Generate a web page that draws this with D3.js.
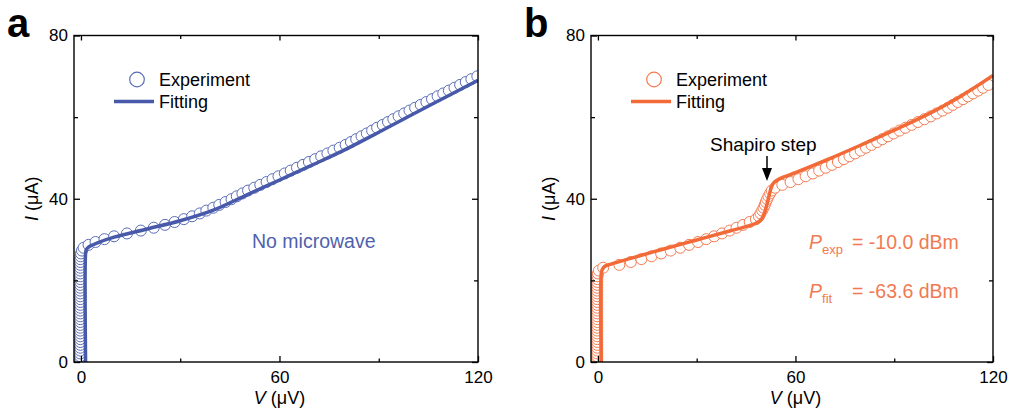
<!DOCTYPE html>
<html>
<head>
<meta charset="utf-8">
<script src="https://cdn.jsdelivr.net/npm/d3@7"></script>
<style>
  body { margin: 0; background: #fff; }
  svg { display: block; }
</style>
</head>
<body>
<svg id="chart" width="1013" height="416"></svg>
<script>
// axis ticks
const xMajor = [0, 60, 120];
const xMinor = [30, 90];
const yMajor = [0, 40, 80];
const yMinor = [20, 60];

// panel a: no microwave, [V (uV), I (uA)]
const aExp = [
  [-0.2,0],[-0.2,0.7],[-0.2,1.4],[-0.2,2.1],[-0.2,2.8],[-0.2,3.5],[-0.2,4.2],[-0.2,4.9],[-0.2,5.6],[-0.2,6.3],
  [-0.2,7.0],[-0.2,7.7],[-0.2,8.4],[-0.2,9.1],[-0.2,9.8],[-0.2,10.5],[-0.2,11.2],[-0.2,11.9],[-0.2,12.6],[-0.2,13.3],
  [-0.2,14.0],[-0.2,14.7],[-0.2,15.4],[-0.2,16.1],[-0.2,16.8],[-0.2,17.5],[-0.2,18.2],[-0.2,18.9],[-0.2,19.6],[-0.2,20.3],
  [-0.2,21.0],[-0.2,21.7],[-0.2,22.4],[-0.2,23.1],[-0.2,23.8],[-0.2,24.5],[-0.2,25.2],[-0.1,25.9],[0.0,26.6],[0.3,27.3],
  [0.8,28.0],[2.3,28.7],[4.4,29.4],[7.1,30.1],[10.0,30.8],[13.9,31.5],[18.1,32.2],[22.0,32.9],[25.4,33.6],[28.3,34.3],
  [31.1,35.0],[33.6,35.7],[35.9,36.4],[37.9,37.1],[40.0,37.8],[41.8,38.5],[43.7,39.2],[45.5,39.9],[47.1,40.6],[48.8,41.3],
  [50.5,42.0],[52.4,42.7],[54.2,43.4],[56.1,44.1],[57.9,44.8],[59.7,45.5],[61.6,46.2],[63.4,46.9],[65.3,47.6],[67.1,48.3],
  [68.9,49.0],[70.8,49.7],[72.6,50.4],[74.5,51.1],[76.3,51.8],[78.2,52.5],[80.0,53.2],[81.6,53.9],[83.2,54.6],[84.8,55.3],
  [86.4,56.0],[88.0,56.7],[89.5,57.4],[91.2,58.1],[92.8,58.8],[94.4,59.5],[96.0,60.2],[97.7,60.9],[99.3,61.6],[101.0,62.3],
  [102.7,63.0],[104.4,63.7],[106.1,64.4],[107.8,65.1],[109.5,65.8],[111.2,66.5],[112.9,67.2],[114.6,67.9],[116.3,68.6],[118.0,69.3],
  [119.8,70.0]
];
const aFit = [
  [1.4,0],[1.4,26.6],[1.6,27.5],[2.2,28.1],[5,29.2],[10,30.6],[20,32.6],[30,34.6],[40,37.2],
  [50,40.9],[60,44.6],[70,48.3],[80,52.1],[90,56.3],[100,60.6],[110,64.8],[120,69.0]
];

// panel b: with microwave
const bExp = [
  [-0.2,0],[-0.2,0.7],[-0.2,1.4],[-0.2,2.1],[-0.2,2.8],[-0.2,3.5],[-0.2,4.2],[-0.2,4.9],[-0.2,5.6],[-0.2,6.3],
  [-0.2,7.0],[-0.2,7.7],[-0.2,8.4],[-0.2,9.1],[-0.2,9.8],[-0.2,10.5],[-0.2,11.2],[-0.2,11.9],[-0.2,12.6],[-0.2,13.3],
  [-0.2,14.0],[-0.2,14.7],[-0.2,15.4],[-0.2,16.1],[-0.2,16.8],[-0.2,17.5],[-0.2,18.2],[-0.2,18.9],[-0.2,19.6],[-0.2,20.3],
  [-0.1,21.0],[0.0,21.7],[0.3,22.4],
  [1.6,23.1],[6.5,23.8],[10.0,24.5],[13.2,25.2],[16.3,25.9],[19.2,26.6],[22.1,27.3],[25.0,28.0],[27.7,28.7],[30.4,29.4],
  [32.9,30.1],[35.3,30.8],[37.7,31.5],[40.0,32.2],[42.1,32.9],[44.1,33.6],[46.1,34.3],[48.0,35.0],[48.9,35.7],[49.4,36.4],
  [49.9,37.1],[50.3,37.8],[50.7,38.5],[51.0,39.2],[51.4,39.9],[51.8,40.6],[52.3,41.3],[52.8,42.0],[53.8,42.7],[56.0,43.4],
  [58.5,44.1],[60.9,44.8],[63.1,45.5],[65.3,46.2],[67.2,46.9],[69.2,47.6],[71.1,48.3],[72.9,49.0],[74.7,49.7],[76.4,50.4],
  [78.1,51.1],[79.8,51.8],[81.4,52.5],[83.1,53.2],[84.8,53.9],[86.4,54.6],[88.1,55.3],[89.8,56.0],[91.6,56.7],[93.4,57.4],
  [95.3,58.1],[97.2,58.8],[99.2,59.5],[101.1,60.2],[102.9,60.9],[104.7,61.6],[106.3,62.3],[107.8,63.0],[109.3,63.7],[110.9,64.4],
  [112.4,65.1],[113.9,65.8],[115.5,66.5],[117.0,67.2],[118.6,67.9]
];
const bFit = [
  [1.0,0],[1.0,21.5],[1.3,22.6],[2,23.4],[4,24.0],[10,25.4],[20,27.7],[30,29.9],[40,32.1],[46,33.4],
  [48,34.0],[49.5,34.8],[50.5,36.3],[51.3,38.5],[52,40.8],[52.6,42.6],[53.3,43.8],[54.5,44.6],[57,45.5],
  [60,46.4],[70,49.7],[80,53.2],[90,56.8],[100,60.6],[110,65.0],[120,70.2]
];

const font = "'Liberation Sans', Arial, sans-serif";
const plotTop = 35.5, plotH = 326.5;

const svg = d3.select("#chart").style("font-family", font);
const defs = svg.append("defs");

function drawPanel(p) {
  const g = svg.append("g").attr("transform", `translate(${p.left},${plotTop})`);
  const x = d3.scaleLinear().domain([-2.1, 120]).range([0, p.width]);
  const y = d3.scaleLinear().domain([0, 80]).range([plotH, 0]);

  defs.append("clipPath").attr("id", "clip-" + p.id)
    .append("rect").attr("width", p.width).attr("height", plotH);

  const plot = g.append("g").attr("clip-path", `url(#clip-${p.id})`);

  plot.selectAll("circle")
    .data(p.exp)
    .join("circle")
    .attr("cx", d => x(d[0]))
    .attr("cy", d => y(d[1]))
    .attr("r", 5.5)
    .attr("fill", "#fff")
    .attr("stroke", p.ptColor)
    .attr("stroke-width", 1);

  const line = d3.line()
    .x(d => x(d[0]))
    .y(d => y(d[1]))
    .curve(d3.curveCatmullRom.alpha(0.5));

  plot.append("path")
    .datum(p.fit)
    .attr("d", line)
    .attr("fill", "none")
    .attr("stroke", p.lineColor)
    .attr("stroke-width", 3.5);

  // axes, ticks pointing inward on all four sides
  const axes = [
    [d3.axisBottom(x).tickValues(xMajor).tickSize(-6).tickPadding(9), `translate(0,${plotH})`],
    [d3.axisBottom(x).tickValues(xMinor).tickSize(-3.5).tickFormat(""), `translate(0,${plotH})`],
    [d3.axisTop(x).tickValues(xMajor).tickSize(-5).tickFormat(""), null],
    [d3.axisTop(x).tickValues(xMinor).tickSize(-3.5).tickFormat(""), null],
    [d3.axisLeft(y).tickValues(yMajor).tickSize(-6).tickPadding(6), null],
    [d3.axisLeft(y).tickValues(yMinor).tickSize(-4).tickFormat(""), null],
    [d3.axisRight(y).tickValues(yMajor).tickSize(-6).tickFormat(""), `translate(${p.width},0)`],
    [d3.axisRight(y).tickValues(yMinor).tickSize(-4).tickFormat(""), `translate(${p.width},0)`]
  ];
  axes.forEach(([ax, tr]) => {
    const a = g.append("g").call(ax)
      .attr("font-family", font)
      .attr("font-size", 17);
    if (tr) a.attr("transform", tr);
    a.select(".domain").remove();
    a.selectAll(".tick line").attr("stroke", "#000").attr("stroke-width", 1.3);
    a.selectAll(".tick text").attr("fill", "#000");
  });

  g.append("rect")
    .attr("width", p.width)
    .attr("height", plotH)
    .attr("fill", "none")
    .attr("stroke", "#000")
    .attr("stroke-width", 1.4);

  // axis titles
  const xt = svg.append("text")
    .attr("x", p.left + x(60))
    .attr("y", 404)
    .attr("text-anchor", "middle")
    .attr("font-size", 18);
  xt.append("tspan").attr("font-style", "italic").text("V");
  xt.append("tspan").text(" (μV)");

  const yt = svg.append("text")
    .attr("transform", `translate(${p.left - 36},${plotTop + y(40)}) rotate(-90)`)
    .attr("text-anchor", "middle")
    .attr("font-size", 18);
  yt.append("tspan").attr("font-style", "italic").text("I");
  yt.append("tspan").text(" (μA)");

  // panel letter
  svg.append("text")
    .attr("x", p.left - 67)
    .attr("y", 36.5)
    .attr("font-size", 40)
    .attr("font-weight", "bold")
    .text(p.id);

  // legend
  svg.append("circle")
    .attr("cx", p.left + 63)
    .attr("cy", 79.5)
    .attr("r", 7.3)
    .attr("fill", "#fff")
    .attr("stroke", p.ptColor)
    .attr("stroke-width", 1.2);
  svg.append("text")
    .attr("x", p.left + 85)
    .attr("y", 86)
    .attr("font-size", 18)
    .text("Experiment");
  svg.append("line")
    .attr("x1", p.left + 40)
    .attr("x2", p.left + 80)
    .attr("y1", 101.5)
    .attr("y2", 101.5)
    .attr("stroke", p.lineColor)
    .attr("stroke-width", 3.5);
  svg.append("text")
    .attr("x", p.left + 85)
    .attr("y", 108)
    .attr("font-size", 18)
    .text("Fitting");

  return { x, y };
}

drawPanel({ id: "a", left: 74, width: 404, exp: aExp, fit: aFit, ptColor: "#5a6cb8", lineColor: "#4759a8" });
drawPanel({ id: "b", left: 591, width: 402, exp: bExp, fit: bFit, ptColor: "#f47c52", lineColor: "#f26a38" });

// annotations
svg.append("text")
  .attr("x", 252).attr("y", 248)
  .attr("font-size", 19.5)
  .attr("fill", "#4f61ad")
  .text("No microwave");

svg.append("text")
  .attr("x", 710).attr("y", 151)
  .attr("font-size", 19)
  .attr("fill", "#000")
  .text("Shapiro step");
svg.append("line")
  .attr("x1", 767).attr("x2", 767)
  .attr("y1", 156).attr("y2", 170)
  .attr("stroke", "#000").attr("stroke-width", 1.5);
svg.append("path")
  .attr("d", "M762,168 L772,168 L767,181 Z")
  .attr("fill", "#000");

const orangeText = "#f07a52";
function powerLabel(yPos, sub, value) {
  const t = svg.append("text")
    .attr("x", 809).attr("y", yPos)
    .attr("font-size", 19.5)
    .attr("fill", orangeText);
  t.append("tspan").attr("font-style", "italic").text("P");
  t.append("tspan").attr("font-size", 13).attr("dy", 5).text(sub);
  t.append("tspan").attr("x", 852).attr("dy", -5).text("= " + value);
}
powerLabel(249, "exp", "-10.0 dBm");
powerLabel(298, "fit", "-63.6 dBm");
</script>
</body>
</html>
